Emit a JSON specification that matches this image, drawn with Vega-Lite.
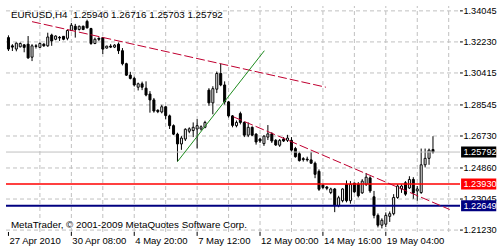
{
"$schema": "https://vega.github.io/schema/vega-lite/v6.json",
"width": 500, "height": 250,
"autosize": {"type": "fit", "contains": "padding"},
"padding": {"left": 1, "top": 1, "right": 0, "bottom": 4},
"background": "white",
"config": {"view": {"stroke": null}, "font": "Liberation Sans", "text": {"font": "Liberation Sans"}},
"datasets": {
"candles": [
{"i":0,"o":1.32482,"h":1.32614,"l":1.31699,"c":1.31813},
{"i":1,"o":1.32002,"h":1.32099,"l":1.31699,"c":1.31927},
{"i":2,"o":1.31813,"h":1.32196,"l":1.31681,"c":1.32156},
{"i":3,"o":1.31945,"h":1.32196,"l":1.31910,"c":1.32139},
{"i":4,"o":1.32059,"h":1.32099,"l":1.31624,"c":1.31910},
{"i":5,"o":1.32099,"h":1.32574,"l":1.31241,"c":1.31298},
{"i":6,"o":1.31338,"h":1.32099,"l":1.31109,"c":1.32002},
{"i":7,"o":1.32002,"h":1.32099,"l":1.31842,"c":1.31967},
{"i":8,"o":1.31910,"h":1.32196,"l":1.31870,"c":1.32139},
{"i":9,"o":1.32099,"h":1.32156,"l":1.31945,"c":1.32002},
{"i":10,"o":1.32002,"h":1.32768,"l":1.31945,"c":1.32517},
{"i":11,"o":1.32631,"h":1.32711,"l":1.32002,"c":1.32288},
{"i":12,"o":1.32385,"h":1.32614,"l":1.32328,"c":1.32574},
{"i":13,"o":1.32499,"h":1.32574,"l":1.32288,"c":1.32459},
{"i":14,"o":1.32557,"h":1.32574,"l":1.32328,"c":1.32385},
{"i":15,"o":1.32442,"h":1.32957,"l":1.32328,"c":1.32900},
{"i":16,"o":1.32900,"h":1.33340,"l":1.32860,"c":1.33203},
{"i":17,"o":1.33146,"h":1.33283,"l":1.32482,"c":1.32957},
{"i":18,"o":1.32957,"h":1.33186,"l":1.32900,"c":1.33146},
{"i":19,"o":1.33146,"h":1.33186,"l":1.32917,"c":1.32957},
{"i":20,"o":1.33432,"h":1.33529,"l":1.33014,"c":1.33054},
{"i":21,"o":1.33014,"h":1.33054,"l":1.32059,"c":1.32139},
{"i":22,"o":1.32139,"h":1.32482,"l":1.32099,"c":1.32385},
{"i":23,"o":1.32442,"h":1.32499,"l":1.32288,"c":1.32385},
{"i":24,"o":1.32482,"h":1.32517,"l":1.31527,"c":1.31813},
{"i":25,"o":1.31870,"h":1.32002,"l":1.31842,"c":1.31985},
{"i":26,"o":1.31985,"h":1.32099,"l":1.31870,"c":1.31927},
{"i":27,"o":1.31927,"h":1.32099,"l":1.31870,"c":1.32042},
{"i":28,"o":1.32099,"h":1.32196,"l":1.31527,"c":1.31716},
{"i":29,"o":1.31716,"h":1.31870,"l":1.30858,"c":1.30955},
{"i":30,"o":1.30955,"h":1.31012,"l":1.30240,"c":1.30286},
{"i":31,"o":1.30286,"h":1.30480,"l":1.30040,"c":1.30097},
{"i":32,"o":1.30097,"h":1.30194,"l":1.29622,"c":1.29714},
{"i":33,"o":1.29582,"h":1.29851,"l":1.29393,"c":1.29782},
{"i":34,"o":1.29782,"h":1.29908,"l":1.29411,"c":1.29582},
{"i":35,"o":1.29525,"h":1.29925,"l":1.29050,"c":1.29125},
{"i":36,"o":1.29182,"h":1.29353,"l":1.28095,"c":1.28839},
{"i":37,"o":1.28839,"h":1.28953,"l":1.28095,"c":1.28192},
{"i":38,"o":1.28238,"h":1.28284,"l":1.28066,"c":1.28152},
{"i":39,"o":1.28135,"h":1.28553,"l":1.28055,"c":1.28438},
{"i":40,"o":1.28438,"h":1.28467,"l":1.27712,"c":1.27923},
{"i":41,"o":1.27906,"h":1.27981,"l":1.27140,"c":1.27334},
{"i":42,"o":1.27334,"h":1.27409,"l":1.26779,"c":1.26837},
{"i":43,"o":1.26837,"h":1.26922,"l":1.25235,"c":1.26265},
{"i":44,"o":1.26265,"h":1.26722,"l":1.25921,"c":1.26608},
{"i":45,"o":1.26551,"h":1.27180,"l":1.26436,"c":1.27123},
{"i":46,"o":1.27008,"h":1.27237,"l":1.26894,"c":1.27151},
{"i":47,"o":1.27048,"h":1.27523,"l":1.26665,"c":1.27237},
{"i":48,"o":1.27140,"h":1.27712,"l":1.25996,"c":1.27334},
{"i":49,"o":1.27140,"h":1.27351,"l":1.27048,"c":1.27266},
{"i":50,"o":1.27237,"h":1.27620,"l":1.27180,"c":1.27523},
{"i":51,"o":1.29411,"h":1.29525,"l":1.28495,"c":1.28667},
{"i":52,"o":1.28667,"h":1.29639,"l":1.27998,"c":1.29496},
{"i":53,"o":1.29468,"h":1.30497,"l":1.29239,"c":1.30383},
{"i":54,"o":1.30383,"h":1.30955,"l":1.29639,"c":1.29714},
{"i":55,"o":1.29714,"h":1.29925,"l":1.28570,"c":1.28724},
{"i":56,"o":1.28724,"h":1.28781,"l":1.27809,"c":1.27906},
{"i":57,"o":1.27906,"h":1.27952,"l":1.27237,"c":1.27351},
{"i":58,"o":1.27334,"h":1.27637,"l":1.27237,"c":1.27523},
{"i":59,"o":1.28038,"h":1.28152,"l":1.27409,"c":1.27523},
{"i":60,"o":1.27523,"h":1.27580,"l":1.26665,"c":1.26779},
{"i":61,"o":1.26779,"h":1.27523,"l":1.26665,"c":1.27237},
{"i":62,"o":1.27237,"h":1.27294,"l":1.26722,"c":1.26779},
{"i":63,"o":1.26837,"h":1.26894,"l":1.26225,"c":1.26379},
{"i":64,"o":1.26551,"h":1.26608,"l":1.26322,"c":1.26436},
{"i":65,"o":1.26282,"h":1.26779,"l":1.26150,"c":1.26722},
{"i":66,"o":1.26665,"h":1.27369,"l":1.26493,"c":1.26854},
{"i":67,"o":1.26854,"h":1.26951,"l":1.26322,"c":1.26436},
{"i":68,"o":1.26476,"h":1.26551,"l":1.26150,"c":1.26207},
{"i":69,"o":1.26190,"h":1.26551,"l":1.26093,"c":1.26476},
{"i":70,"o":1.26551,"h":1.26665,"l":1.26379,"c":1.26436},
{"i":71,"o":1.26476,"h":1.26797,"l":1.26379,"c":1.26608},
{"i":72,"o":1.26476,"h":1.26665,"l":1.25807,"c":1.25904},
{"i":73,"o":1.25996,"h":1.26093,"l":1.25464,"c":1.25521},
{"i":74,"o":1.25693,"h":1.25807,"l":1.25235,"c":1.25292},
{"i":75,"o":1.25407,"h":1.25492,"l":1.25235,"c":1.25349},
{"i":76,"o":1.25378,"h":1.25521,"l":1.25235,"c":1.25332},
{"i":77,"o":1.25332,"h":1.25807,"l":1.25121,"c":1.25138},
{"i":78,"o":1.25138,"h":1.25235,"l":1.24263,"c":1.24491},
{"i":79,"o":1.24663,"h":1.24777,"l":1.23519,"c":1.23616},
{"i":80,"o":1.23862,"h":1.23919,"l":1.23633,"c":1.23719},
{"i":81,"o":1.23748,"h":1.23805,"l":1.23559,"c":1.23673},
{"i":82,"o":1.23422,"h":1.23708,"l":1.23330,"c":1.23633},
{"i":83,"o":1.23633,"h":1.23691,"l":1.22278,"c":1.22661},
{"i":84,"o":1.22661,"h":1.23233,"l":1.22564,"c":1.23119},
{"i":85,"o":1.22947,"h":1.23673,"l":1.22850,"c":1.23633},
{"i":86,"o":1.23902,"h":1.24131,"l":1.22850,"c":1.22947},
{"i":87,"o":1.22947,"h":1.24091,"l":1.22775,"c":1.23902},
{"i":88,"o":1.23977,"h":1.23994,"l":1.23405,"c":1.23462},
{"i":89,"o":1.23919,"h":1.24034,"l":1.23136,"c":1.23233},
{"i":90,"o":1.23405,"h":1.24205,"l":1.23347,"c":1.24091},
{"i":91,"o":1.23902,"h":1.24566,"l":1.23805,"c":1.24320},
{"i":92,"o":1.24280,"h":1.24377,"l":1.23405,"c":1.23519},
{"i":93,"o":1.23176,"h":1.23519,"l":1.21917,"c":1.22089},
{"i":94,"o":1.22089,"h":1.22203,"l":1.21385,"c":1.21517},
{"i":95,"o":1.21517,"h":1.21917,"l":1.21328,"c":1.21803},
{"i":96,"o":1.21574,"h":1.22261,"l":1.21403,"c":1.22089},
{"i":97,"o":1.22032,"h":1.22318,"l":1.21706,"c":1.22186},
{"i":98,"o":1.22186,"h":1.23330,"l":1.22089,"c":1.23136},
{"i":99,"o":1.23136,"h":1.23919,"l":1.23061,"c":1.23805},
{"i":100,"o":1.23633,"h":1.23902,"l":1.23405,"c":1.23805},
{"i":101,"o":1.23994,"h":1.24091,"l":1.23233,"c":1.23330},
{"i":102,"o":1.23691,"h":1.24377,"l":1.23633,"c":1.24188},
{"i":103,"o":1.24188,"h":1.24320,"l":1.23061,"c":1.23405},
{"i":104,"o":1.23519,"h":1.23805,"l":1.22947,"c":1.23633},
{"i":105,"o":1.23422,"h":1.25996,"l":1.23347,"c":1.25046},
{"i":106,"o":1.25046,"h":1.25996,"l":1.24892,"c":1.25424},
{"i":107,"o":1.25424,"h":1.25996,"l":1.25046,"c":1.25904},
{"i":108,"o":1.25940,"h":1.26716,"l":1.25703,"c":1.25792}
],
"levels": [{"p":1.34045},{"p":1.3223},{"p":1.30415},{"p":1.28545},{"p":1.2673},{"p":1.2486},{"p":1.23045},{"p":1.2123}],
"times": [{"i":0,"t":"27 Apr 2010"},{"i":16,"t":"30 Apr 08:00"},{"i":32,"t":"4 May 20:00"},{"i":48,"t":"7 May 12:00"},{"i":64,"t":"12 May 00:00"},{"i":80,"t":"14 May 16:00"},{"i":96,"t":"19 May 04:00"}],
"marks": [{"k":"bid","p":1.25792},{"k":"l1","p":1.2393},{"k":"l2","p":1.22649}]
},
"layer": [
{"data": {"values": [{"g":8},{"g":16},{"g":24},{"g":32},{"g":40},{"g":48},{"g":56},{"g":64},{"g":72},{"g":80},{"g":88},{"g":96},{"g":104},{"g":112}]},
 "mark": {"type": "rule", "stroke": "#c0c0c0", "strokeDash": [4, 3], "strokeWidth": 1},
 "encoding": {"x": {"field": "g", "type": "quantitative", "scale": {"domain": [-0.625, 114.875], "nice": false, "zero": false}, "axis": null},
  "y": {"datum": 1.21117, "type": "quantitative", "scale": {"domain": [1.21117, 1.3433], "nice": false, "zero": false}, "axis": null},
  "y2": {"datum": 1.3433}}},
{"data": {"name": "levels"},
 "mark": {"type": "rule", "stroke": "#c0c0c0", "strokeDash": [4, 3], "strokeWidth": 1},
 "encoding": {"y": {"field": "p", "type": "quantitative", "scale": {"domain": [1.21117, 1.3433], "nice": false, "zero": false}, "axis": null},
  "x": {"datum": -0.625, "type": "quantitative", "scale": {"domain": [-0.625, 114.875], "nice": false, "zero": false}, "axis": null},
  "x2": {"datum": 114.875}}},
{"data": {"name": "candles"},
 "mark": {"type": "rule", "stroke": "black", "strokeWidth": 1},
 "encoding": {
  "x": {"field": "i", "type": "quantitative", "scale": {"domain": [-0.625, 114.875], "nice": false, "zero": false}, "axis": null},
  "y": {"field": "l", "type": "quantitative", "scale": {"domain": [1.21117, 1.3433], "nice": false, "zero": false}, "axis": null},
  "y2": {"field": "h"}}},
{"data": {"name": "candles"},
 "mark": {"type": "bar", "width": 2, "stroke": "black", "strokeWidth": 1},
 "encoding": {
  "x": {"field": "i", "type": "quantitative", "scale": {"domain": [-0.625, 114.875], "nice": false, "zero": false}, "axis": null},
  "y": {"field": "o", "type": "quantitative", "scale": {"domain": [1.21117, 1.3433], "nice": false, "zero": false}, "axis": null},
  "y2": {"field": "c"},
  "fill": {"condition": {"test": "datum.c > datum.o", "value": "white"}, "value": "black"}}},
{"data": {"name": "marks"},
 "mark": {"type": "rule"},
 "encoding": {"y": {"field": "p", "type": "quantitative", "scale": {"domain": [1.21117, 1.3433], "nice": false, "zero": false}, "axis": null},
  "x": {"datum": -0.625, "type": "quantitative", "scale": {"domain": [-0.625, 114.875], "nice": false, "zero": false}, "axis": null},
  "x2": {"datum": 114.875},
  "stroke": {"field": "k", "type": "nominal", "scale": {"domain": ["bid", "l1", "l2"], "range": ["#c0c0c0", "#ff0000", "#000080"]}, "legend": null},
  "strokeWidth": {"field": "k", "type": "nominal", "scale": {"domain": ["bid", "l1", "l2"], "range": [1, 2, 2]}, "legend": null}}},
{"data": {"values": [{"k":"a","i":6,"p":1.33415},{"k":"a","i":80.75,"p":1.29582},{"k":"b","i":57.25,"p":1.27849},{"k":"b","i":112.25,"p":1.22432}]},
 "mark": {"type": "line", "stroke": "#c00030", "strokeWidth": 1, "strokeDash": [9, 3]},
 "encoding": {"x": {"field": "i", "type": "quantitative", "scale": {"domain": [-0.625, 114.875], "nice": false, "zero": false}, "axis": null},
  "y": {"field": "p", "type": "quantitative", "scale": {"domain": [1.21117, 1.3433], "nice": false, "zero": false}, "axis": null},
  "detail": {"field": "k"}}},
{"data": {"values": [{"i":43,"p":1.25235},{"i":65.1,"p":1.31716}]},
 "mark": {"type": "line", "stroke": "#1e8c1e", "strokeWidth": 1},
 "encoding": {"x": {"field": "i", "type": "quantitative", "scale": {"domain": [-0.625, 114.875], "nice": false, "zero": false}, "axis": null},
  "y": {"field": "p", "type": "quantitative", "scale": {"domain": [1.21117, 1.3433], "nice": false, "zero": false}, "axis": null}}},
{"mark": {"type": "rect", "fillOpacity": 0, "stroke": "black", "strokeWidth": 1},
 "encoding": {
  "x": {"datum": -0.625, "type": "quantitative", "scale": {"domain": [-0.625, 114.875], "nice": false, "zero": false}, "axis": null},
  "x2": {"datum": 114.875},
  "y": {"datum": 1.21117, "type": "quantitative", "scale": {"domain": [1.21117, 1.3433], "nice": false, "zero": false}, "axis": null},
  "y2": {"datum": 1.3433}}},
{"data": {"name": "levels"},
 "mark": {"type": "rule", "stroke": "black", "strokeWidth": 1},
 "encoding": {"y": {"field": "p", "type": "quantitative", "scale": {"domain": [1.21117, 1.3433], "nice": false, "zero": false}, "axis": null},
  "x": {"datum": 114.875, "type": "quantitative", "scale": {"domain": [-0.625, 114.875], "nice": false, "zero": false}, "axis": null},
  "x2": {"datum": 115.6}}},
{"data": {"name": "levels"},
 "mark": {"type": "text", "align": "left", "baseline": "middle", "fill": "black", "fontSize": 9.2},
 "encoding": {"y": {"field": "p", "type": "quantitative", "scale": {"domain": [1.21117, 1.3433], "nice": false, "zero": false}, "axis": null},
  "x": {"datum": 115.75, "type": "quantitative", "scale": {"domain": [-0.625, 114.875], "nice": false, "zero": false}, "axis": null},
  "text": {"field": "p", "type": "quantitative", "format": ".5f"}}},
{"data": {"name": "times"},
 "mark": {"type": "rule", "stroke": "black", "strokeWidth": 1},
 "encoding": {"x": {"field": "i", "type": "quantitative", "scale": {"domain": [-0.625, 114.875], "nice": false, "zero": false}, "axis": null},
  "y": {"datum": 1.21117, "type": "quantitative", "scale": {"domain": [1.21117, 1.3433], "nice": false, "zero": false}, "axis": null},
  "y2": {"datum": 1.20889}}},
{"data": {"name": "times"},
 "mark": {"type": "text", "align": "left", "baseline": "top", "fill": "black", "fontSize": 9.5, "dx": 1},
 "encoding": {"x": {"field": "i", "type": "quantitative", "scale": {"domain": [-0.625, 114.875], "nice": false, "zero": false}, "axis": null},
  "y": {"datum": 1.20889, "type": "quantitative", "scale": {"domain": [1.21117, 1.3433], "nice": false, "zero": false}, "axis": null},
  "text": {"field": "t"}}},
{"data": {"name": "marks"},
 "mark": {"type": "bar", "height": 11},
 "encoding": {
  "x": {"datum": 115.15, "type": "quantitative", "scale": {"domain": [-0.625, 114.875], "nice": false, "zero": false}, "axis": null},
  "x2": {"datum": 124.1},
  "y": {"field": "p", "type": "quantitative", "scale": {"domain": [1.21117, 1.3433], "nice": false, "zero": false}, "axis": null},
  "fill": {"field": "k", "type": "nominal", "scale": {"domain": ["bid", "l1", "l2"], "range": ["black", "#ff0000", "#000080"]}, "legend": null}}},
{"data": {"name": "marks"},
 "mark": {"type": "text", "align": "left", "baseline": "middle", "fill": "white", "fontSize": 9.2},
 "encoding": {
  "x": {"datum": 115.75, "type": "quantitative", "scale": {"domain": [-0.625, 114.875], "nice": false, "zero": false}, "axis": null},
  "y": {"field": "p", "type": "quantitative", "scale": {"domain": [1.21117, 1.3433], "nice": false, "zero": false}, "axis": null},
  "text": {"field": "p", "type": "quantitative", "format": ".5f"}}},
{"data": {"values": [{"t": "EURUSD,H4\u00a0 1.25940 1.26716 1.25703 1.25792", "i": 0.625, "p": 1.33615}, {"t": "MetaTrader, \u00a9 2001-2009 MetaQuotes Software Corp.", "i": 0.625, "p": 1.21345}]},
 "mark": {"type": "text", "align": "left", "baseline": "alphabetic", "fill": "black", "fontSize": 9.8},
 "encoding": {
  "x": {"field": "i", "type": "quantitative", "scale": {"domain": [-0.625, 114.875], "nice": false, "zero": false}, "axis": null},
  "y": {"field": "p", "type": "quantitative", "scale": {"domain": [1.21117, 1.3433], "nice": false, "zero": false}, "axis": null},
  "text": {"field": "t"}}}
]
}
